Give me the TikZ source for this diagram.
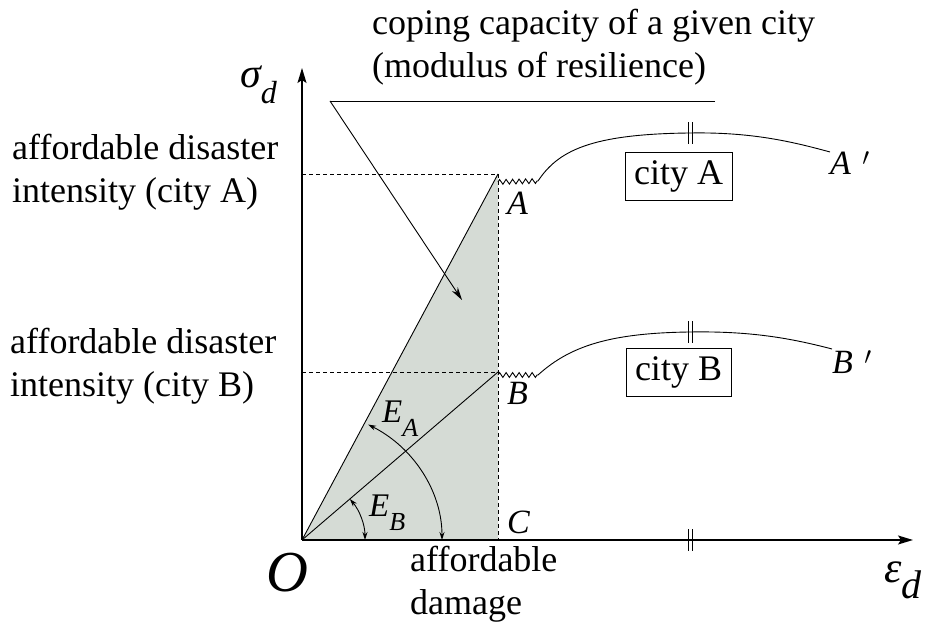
\documentclass[tikz,border=0pt]{standalone}
\usepackage{fontspec}
\setmainfont{Liberation Serif}
\usetikzlibrary{arrows.meta,decorations.pathmorphing,calc}
\definecolor{shadecol}{RGB}{213,219,213}
\begin{document}
\begin{tikzpicture}[x=1pt,y=1pt,
  lbl/.style={inner sep=0pt, anchor=base west, font=\fontsize{36}{43}\selectfont, align=left},
  ptlbl/.style={inner sep=0pt, anchor=base west, font=\fontsize{34}{40}\selectfont\itshape},
  thinline/.style={line width=0.9pt},
  dashline/.style={line width=0.9pt, dash pattern=on 4pt off 3pt},
  axisline/.style={line width=1.3pt, -{Stealth[length=15pt,width=9pt,inset=3pt]}},
  angarrow/.style={line width=0.9pt, {Stealth[length=8pt,width=5pt]}-{Stealth[length=8pt,width=5pt]}},
  cbox/.style={draw, line width=0.9pt, inner xsep=9pt, inner ysep=7.5pt, text height=25pt, text depth=8pt, font=\fontsize{36}{43}\selectfont},
  zz/.style={line width=0.9pt, decorate, decoration={zigzag, amplitude=2.4pt, segment length=6.5pt}},
  dtick/.pic={\draw[line width=0.9pt] (-2,-11) -- (-2,11) (2,-11) -- (2,11);}
]
\useasboundingbox (0,0) rectangle (932,631);

% key points
\coordinate (O) at (302,91);
\coordinate (A) at (498,457);
\coordinate (B) at (498,259);
\coordinate (C) at (498,91);
\coordinate (YA) at (302,457);
\coordinate (YB) at (302,259);
\coordinate (ytop) at (302,563);
\coordinate (xend) at (913,91);

% shaded triangle
\fill[shadecol] (O) -- (A) -- (C) -- cycle;

% dashed guides
\draw[dashline] (YA) -- (A);
\draw[dashline] (YB) -- (B);
\draw[dashline] (A) -- (C);

% slopes
\draw[thinline] (O) -- (A);
\draw[thinline] (O) -- (B);

% axes
\draw[axisline] (O) -- (ytop);
\draw[axisline] (O) -- (xend);
\pic at (690,91) {dtick};

% curve A
\coordinate (za0) at (498,449);
\coordinate (za1) at (538,450);
\coordinate (ta) at (690,498);
\coordinate (aend) at (830,479);
\draw[zz] (za0) -- (za1);
\draw[thinline] (za1) .. controls (558,480) and (590,497) .. (ta) .. controls (750,499) and (790,490) .. (aend);
\pic at (ta) {dtick};

% curve B
\coordinate (zb0) at (498,256);
\coordinate (zb1) at (538,256);
\coordinate (tb) at (690,299);
\coordinate (bend) at (832,282);
\draw[zz] (zb0) -- (zb1);
\draw[thinline] (zb1) .. controls (570,285) and (610,298) .. (tb) .. controls (750,300) and (790,293) .. (bend);
\pic at (tb) {dtick};

% angle arcs
\draw[angarrow] (O) ++(61.8:140 and 131) arc[start angle=61.8, end angle=0, x radius=140, y radius=131];
\draw[angarrow] (O) ++(40.6:63) arc[start angle=40.6, end angle=0, radius=63];

% boxes
\node[cbox] (cityA) at (678.5,455) {city A};
\node[cbox] (cityB) at (678.5,258.5) {city B};

% coping capacity pointer
\coordinate (cl) at (330,530);
\coordinate (cr) at (715,530);
\coordinate (ct) at (462,331);
\draw[thinline] (cr) -- (cl);
\draw[thinline, -{Stealth[length=13pt,width=7pt]}] (cl) -- (ct);

% texts (base anchor = baseline of last line)
\node[lbl] (top) at (372,553) {coping capacity of a given city\\(modulus of resilience)};
\node[lbl] (la) at (12,428) {affordable disaster\\intensity (city A)};
\node[lbl] (lb) at (10,234) {affordable disaster\\intensity (city B)};
\node[lbl] (ld) at (410,16) {affordable\\damage};

\node[ptlbl] (Alab) at (507,416) {A};
\node[ptlbl] (Blab) at (507,226) {B};
\node[ptlbl] (Clab) at (507,97) {C};
\node[ptlbl] (Aplab) at (830,456) {A\,\,$'$};
\node[ptlbl] (Bplab) at (832,257) {B\,\,$'$};

\node[inner sep=0pt, anchor=base west, font=\fontsize{58}{58}\selectfont\itshape] (Olab) at (266,39) {O};
\node[inner sep=0pt, anchor=base west, font=\fontsize{42}{42}\selectfont\itshape] (sig) at (240,543) {σ\raisebox{-0.38em}{\fontsize{32}{32}\selectfont d}};
\node[inner sep=0pt, anchor=base west, font=\fontsize{44}{44}\selectfont\itshape] (eps) at (884,48) {ε\raisebox{-0.35em}{\fontsize{40}{40}\selectfont d}};
\node[inner sep=0pt, anchor=base west, font=\fontsize{33}{33}\selectfont\itshape] (EA) at (382,208) {E\raisebox{-0.4em}{\fontsize{26}{26}\selectfont A}};
\node[inner sep=0pt, anchor=base west, font=\fontsize{33}{33}\selectfont\itshape] (EB) at (369,114) {E\raisebox{-0.4em}{\fontsize{26}{26}\selectfont B}};
\end{tikzpicture}
\end{document}
